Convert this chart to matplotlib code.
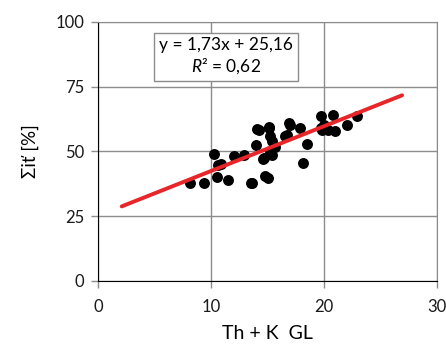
import matplotlib
matplotlib.use('Agg')
import matplotlib.pyplot as plt
import numpy as np

plt.rcParams['font.family'] = ['Lato', 'DejaVu Sans']
plt.rcParams['mathtext.fontset'] = 'custom'
plt.rcParams['mathtext.rm'] = 'Lato'
plt.rcParams['mathtext.it'] = 'Lato:italic'

# Th + K (GL) vs. sum of illite [%]
th_k = [8.1, 9.4, 10.3, 10.5, 10.6, 10.9, 11.5, 12.0, 12.9, 13.5,
        13.6, 14.0, 14.1, 14.2, 14.6, 14.65, 14.8, 15.05, 15.1, 15.1,
        15.25, 15.25, 15.4, 15.4, 15.7, 16.55, 16.7, 16.9, 17.0, 17.9,
        18.1, 18.5, 19.7, 19.7, 19.8, 20.0, 20.3, 20.75, 21.0, 22.0, 22.9]
ill = [37.7, 37.7, 49.1, 40.3, 44.8, 45.2, 39.0, 48.1, 48.7, 37.7,
       37.8, 52.6, 58.7, 58.4, 47.0, 47.5, 40.7, 39.9, 59.4, 59.1,
       55.8, 50.0, 53.9, 48.7, 51.9, 55.8, 56.5, 61.0, 60.3, 59.0,
       45.7, 52.8, 63.6, 59.0, 58.4, 60.3, 58.4, 64.2, 57.8, 60.3, 63.6]

slope, intercept = 1.73, 25.16
r2 = 0.62
x_fit = np.array([2.1, 26.9])
y_fit = slope * x_fit + intercept

fig = plt.figure(figsize=(4.46, 3.49), dpi=100)
ax = fig.add_axes([0.2197, 0.195, 0.7605, 0.742])

ax.scatter(th_k, ill, s=62, color='black', zorder=3, linewidths=0)
ax.plot(x_fit, y_fit, color='#e8262a', lw=2.8, solid_capstyle='round', zorder=4)

ax.set_xlim(0, 30)
ax.set_ylim(0, 100)
ax.set_xticks([0, 10, 20, 30])
ax.set_yticks([0, 25, 50, 75, 100])
ax.grid(True, color='#8c8c8c', lw=1)
ax.set_axisbelow(True)

for s in ['top', 'right']:
    ax.spines[s].set_color('#8c8c8c')
for s in ['left', 'bottom']:
    ax.spines[s].set_color('black')
ax.tick_params(direction='out', length=5, width=1, color='#8c8c8c',
               labelsize=12, pad=5, labelcolor='#1a1a1a')
ax.tick_params(axis='x', pad=8)

ax.set_xlabel('Th + K  GL', fontsize=14, labelpad=7)
ax.set_ylabel('Σiť [%]', fontsize=13.5, labelpad=12)

eq = 'y = %s' % ('%.2f' % slope).replace('.', ',') + 'x + ' + ('%.2f' % intercept).replace('.', ',')
eq += '\n$R$² = ' + ('%.2f' % r2).replace('.', ',')
ax.text(11.3, 86.6, eq, ha='center', va='center', fontsize=12.5,
        linespacing=1.2,
        bbox=dict(boxstyle='square,pad=0.3', fc='white', ec='#8c8c8c', lw=1))

fig.savefig('out.png', dpi=100)
